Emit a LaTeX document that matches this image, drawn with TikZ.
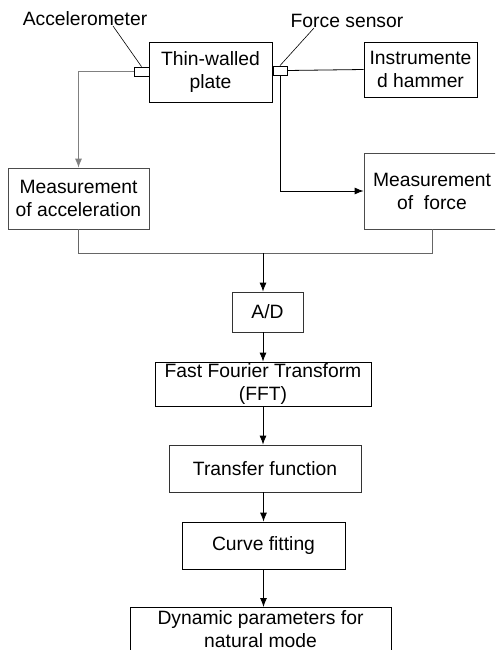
\documentclass[tikz,border=0pt]{standalone}
\usepackage{fontspec}
\setmainfont{Liberation Sans}
\usetikzlibrary{arrows.meta}
\tikzset{
  box/.style={draw, align=center, inner sep=0pt, line width=0.8pt},
  sensorbox/.style={draw, inner sep=0pt, line width=0.8pt, fill=white},
  tag/.style={inner sep=0pt}
}
\begin{document}
\begin{tikzpicture}[x=1pt,y=-1pt,>={Latex[length=9pt,width=7pt]},line width=0.8pt,
  font=\fontsize{19.3}{23}\selectfont]

      \useasboundingbox (0,0) rectangle (495,650);
      \clip (0,0) rectangle (495,650);

      % plate, hammer and the two sensors
      \node[box, minimum width=123, minimum height=60] (plate) at (210.5,72) {Thin-walled\\plate};
      \node[box, minimum width=113, minimum height=55] (hammer) at (420.5,69.5) {Instrumente\\d hammer};
      \node[sensorbox, minimum width=15, minimum height=9] (accsensor) at (141.5,71.5) {};
      \node[sensorbox, minimum width=14, minimum height=9] (fsensor) at (280,70.5) {};
      \node[tag] (acclabel) at (85,19) {Accelerometer};
      \node[tag] (flabel) at (347,21) {Force sensor};
      \coordinate (accend) at (113,26);
      \coordinate (fend) at (314,28);
       \draw[line width=0.6pt] (accend) -- (accsensor.north);
       \draw[line width=0.6pt] (fend) -- (fsensor.north);
       \draw (fsensor.east) -- (hammer.west);

      % measurement
      \node[box, draw=black!70, minimum width=141, minimum height=61] (macc) at (78.5,198.5) {Measurement\\of acceleration};
      \node[box, draw=black!70, minimum width=136, minimum height=76] (mforce) at (432,191) {Measurement\\of~ force};
       \draw[->, gray] (accsensor.west) -| (macc.north);
       \draw[->] (fsensor.south) |- (mforce.west);
       \draw[gray!80!black] (macc.south) -- ++(0,24) -| (mforce.south);
      \coordinate (join) at (263,253);

      % processing chain
      \node[box, draw=black!80, minimum width=71, minimum height=40] (ad) at (267.5,312) {A/D};
      \node[box, minimum width=216, minimum height=44] (fft) at (263,384) {Fast Fourier Transform\\(FFT)};
      \node[box, draw=black!80, minimum width=192, minimum height=47] (transfer) at (265,468.5) {Transfer function};
      \node[box, minimum width=163, minimum height=47] (curve) at (263.5,545.5) {Curve fitting};
      \node[box, anchor=north, minimum width=261, inner ysep=3pt] (dyn) at (260.5,607) {Dynamic parameters for\\natural mode};
       \draw[->] (join) -- (join |- ad.north);
       \draw[->] (fft.north |- ad.south) -- (fft.north);
       \draw[->] (fft.south) -- (fft.south |- transfer.north);
       \draw[->] (curve.north |- transfer.south) -- (curve.north);
       \draw[->] (curve.south) -- (curve.south |- dyn.north);

\end{tikzpicture}
\end{document}
